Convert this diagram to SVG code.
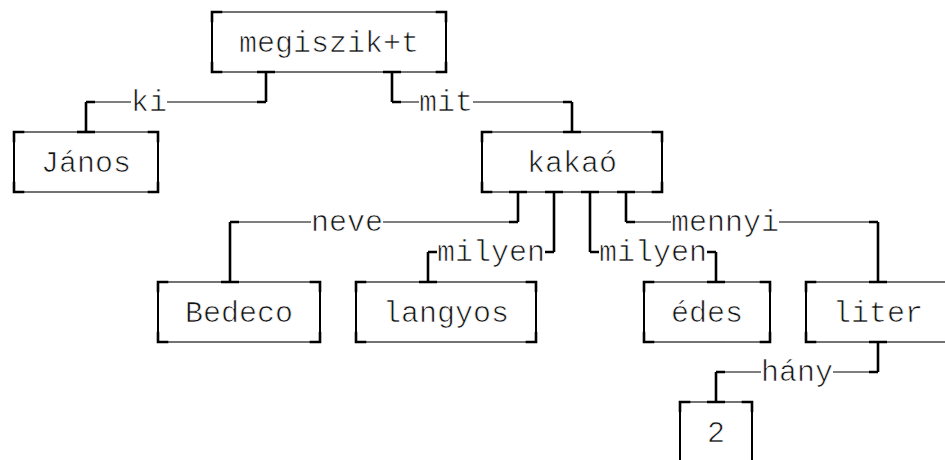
<svg xmlns="http://www.w3.org/2000/svg" width="945" height="460" viewBox="0 0 945 460">
<style>
  .bg { fill: #ffffff; }
  .box { fill: none; stroke: #000; stroke-width: 1.1; }
  .side { stroke: #000; stroke-width: 2; fill: none; }
  .corner { fill: none; stroke: #000; stroke-width: 2.6; stroke-linecap: square; }
  .cv { stroke: #000; stroke-width: 2.6; fill: none; }
  .ch { stroke: #000; stroke-width: 1.1; fill: none; }
  .stub { stroke: #000; stroke-width: 2.6; fill: none; }
  text { font-family: "Liberation Mono", "Courier New", monospace; font-size: 30px; fill: #111; stroke: #fff; stroke-width: 0.7; text-anchor: middle; }
</style>
<rect class="bg" x="0" y="0" width="945" height="460"/>

<g id="connectors">
  <g id="e_ki">
    <path class="cv" d="M266,72 V102"/>
    <path class="ch" d="M86,102 H131 M167,102 H266"/>
    <path class="cv" d="M86,102 V132"/>
    <path class="stub" d="M86,102 H95 M257,102 H266 M257,72 H275"/>
    <text x="149" y="111">ki</text>
  </g>
  <g id="e_mit">
    <path class="cv" d="M392,72 V102"/>
    <path class="ch" d="M392,102 H419 M473,102 H572"/>
    <path class="cv" d="M572,102 V132"/>
    <path class="stub" d="M392,102 H401 M563,102 H572 M383,72 H401 M563,132 H581"/>
    <text x="446" y="111">mit</text>
  </g>
  <g id="e_neve">
    <path class="cv" d="M518,192 V222"/>
    <path class="ch" d="M230,222 H311 M383,222 H518"/>
    <path class="cv" d="M230,222 V282"/>
    <path class="stub" d="M230,222 H239 M509,222 H518 M509,192 H527 M221,282 H239"/>
    <text x="347" y="231">neve</text>
  </g>
  <g id="e_milyen1">
    <path class="cv" d="M554,192 V252"/>
    <path class="ch" d="M428,252 H437 M545,252 H554"/>
    <path class="cv" d="M428,252 V282"/>
    <path class="stub" d="M428,252 H437 M545,252 H554 M545,192 H563 M419,282 H437"/>
    <text x="491" y="261">milyen</text>
  </g>
  <g id="e_milyen2">
    <path class="cv" d="M590,192 V252"/>
    <path class="ch" d="M590,252 H599 M707,252 H716"/>
    <path class="cv" d="M716,252 V282"/>
    <path class="stub" d="M590,252 H599 M707,252 H716 M581,192 H599 M707,282 H725"/>
    <text x="653" y="261">milyen</text>
  </g>
  <g id="e_mennyi">
    <path class="cv" d="M626,192 V222"/>
    <path class="ch" d="M626,222 H671 M779,222 H878"/>
    <path class="cv" d="M878,222 V282"/>
    <path class="stub" d="M626,222 H635 M869,222 H878 M617,192 H635 M869,282 H887"/>
    <text x="725" y="231">mennyi</text>
  </g>
  <g id="e_hany">
    <path class="cv" d="M878,342 V372"/>
    <path class="ch" d="M716,372 H761 M833,372 H878"/>
    <path class="cv" d="M716,372 V402"/>
    <path class="stub" d="M716,372 H725 M869,372 H878 M869,342 H887 M707,402 H725"/>
    <text x="797" y="381">hány</text>
  </g>
</g>

<g id="n_megiszik">
  <rect class="box" x="212" y="12" width="234" height="60"/>
  <path class="side" d="M212,12 V72 M446,12 V72"/>
  <path class="corner" d="M221,12 H212 V21 M437,12 H446 V21 M212,63 V72 H221 M446,63 V72 H437"/>
  <text x="329" y="52">megiszik+t</text>
</g>

<g id="n_janos">
  <rect class="box" x="14" y="132" width="144" height="60"/>
  <path class="side" d="M14,132 V192 M158,132 V192"/>
  <path class="corner" d="M23,132 H14 V141 M149,132 H158 V141 M14,183 V192 H23 M158,183 V192 H149"/>
  <path class="stub" d="M77,132 H95"/>
  <text x="86" y="172">János</text>
</g>

<g id="n_kakao">
  <rect class="box" x="482" y="132" width="180" height="60"/>
  <path class="side" d="M482,132 V192 M662,132 V192"/>
  <path class="corner" d="M491,132 H482 V141 M653,132 H662 V141 M482,183 V192 H491 M662,183 V192 H653"/>
  <text x="572" y="172">kakaó</text>
</g>

<g id="n_bedeco">
  <rect class="box" x="158" y="282" width="162" height="60"/>
  <path class="side" d="M158,282 V342 M320,282 V342"/>
  <path class="corner" d="M167,282 H158 V291 M311,282 H320 V291 M158,333 V342 H167 M320,333 V342 H311"/>
  <text x="239" y="322">Bedeco</text>
</g>

<g id="n_langyos">
  <rect class="box" x="356" y="282" width="180" height="60"/>
  <path class="side" d="M356,282 V342 M536,282 V342"/>
  <path class="corner" d="M365,282 H356 V291 M527,282 H536 V291 M356,333 V342 H365 M536,333 V342 H527"/>
  <text x="446" y="322">langyos</text>
</g>

<g id="n_edes">
  <rect class="box" x="644" y="282" width="126" height="60"/>
  <path class="side" d="M644,282 V342 M770,282 V342"/>
  <path class="corner" d="M653,282 H644 V291 M761,282 H770 V291 M644,333 V342 H653 M770,333 V342 H761"/>
  <text x="707" y="322">édes</text>
</g>

<g id="n_liter">
  <rect class="box" x="806" y="282" width="144" height="60"/>
  <path class="side" d="M806,282 V342"/>
  <path class="corner" d="M815,282 H806 V291 M806,333 V342 H815"/>
  <text x="878" y="322">liter</text>
</g>

<g id="n_2">
  <rect class="box" x="680" y="402" width="72" height="60"/>
  <path class="side" d="M680,402 V462 M752,402 V462"/>
  <path class="corner" d="M689,402 H680 V411 M743,402 H752 V411"/>
  <text x="716" y="442">2</text>
</g>
</svg>
